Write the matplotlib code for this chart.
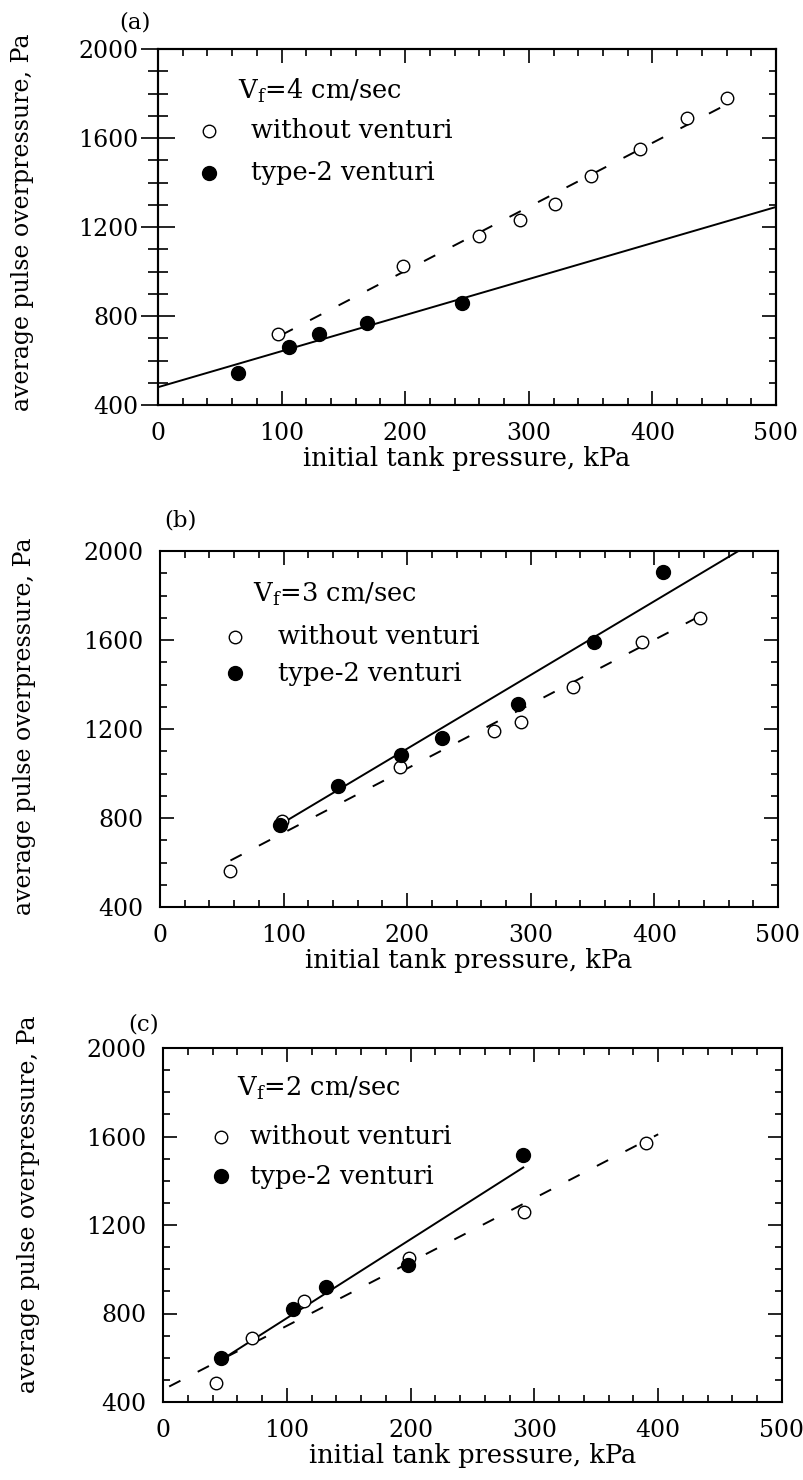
import matplotlib as mpl
import matplotlib.pyplot as plt
from matplotlib.ticker import MultipleLocator

mpl.rcParams.update({"font.family": "DejaVu Serif", "mathtext.fontset": "dejavuserif"})

W, H = 804, 1480

# panel (a): Vf = 4 cm/sec
a_open_x = [97, 198, 260, 293, 321, 350, 390, 428, 460]
a_open_y = [720, 1025, 1160, 1230, 1305, 1430, 1550, 1690, 1780]
a_fill_x = [65, 106, 130, 169, 246]
a_fill_y = [545, 660, 720, 770, 858]
a_solid = ([0, 500], [480, 1290])
a_dash = ([100, 465], [715, 1765])

# panel (b): Vf = 3 cm/sec
b_open_x = [57, 99, 194, 270, 292, 334, 390, 437]
b_open_y = [560, 785, 1028, 1190, 1230, 1390, 1590, 1700]
b_fill_x = [97, 144, 195, 228, 290, 351, 407]
b_fill_y = [770, 946, 1085, 1160, 1312, 1590, 1905]
b_solid = ([100, 468], [780, 2000])
b_dash = ([57, 437], [609, 1708])

# panel (c): Vf = 2 cm/sec
c_open_x = [43, 72, 114, 199, 292, 390]
c_open_y = [485, 690, 855, 1050, 1260, 1572]
c_fill_x = [47, 105, 132, 198, 291]
c_fill_y = [600, 820, 920, 1020, 1515]
c_solid = ([47, 291], [590, 1460])
c_dash = ([5, 400], [470, 1610])

panels = [
    dict(box=(158, 49, 776, 405), tag="(a)", tag_xy=(135, 22), vf="4",
         ox=a_open_x, oy=a_open_y, fx=a_fill_x, fy=a_fill_y, solid=a_solid, dash=a_dash,
         leg=(0.129, 0.119, 0.083, 0.151, 0.229, 0.348), ylab_xy=(23, 222), inout=True),
    dict(box=(160, 551, 778, 907), tag="(b)", tag_xy=(180, 521), vf="3",
         ox=b_open_x, oy=b_open_y, fx=b_fill_x, fy=b_fill_y, solid=b_solid, dash=b_dash,
         leg=(0.150, 0.121, 0.121, 0.191, 0.241, 0.344), ylab_xy=(25, 726), inout=False),
    dict(box=(163, 1048, 782, 1402), tag="(c)", tag_xy=(144, 1024), vf="2",
         ox=c_open_x, oy=c_open_y, fx=c_fill_x, fy=c_fill_y, solid=c_solid, dash=c_dash,
         leg=(0.120, 0.113, 0.093, 0.140, 0.251, 0.362), ylab_xy=(29, 1204), inout=False),
]

fig = plt.figure(figsize=(W / 100, H / 100), dpi=100)


def set_ticks(a):
    a.xaxis.set_major_locator(MultipleLocator(100))
    a.xaxis.set_minor_locator(MultipleLocator(20))
    a.yaxis.set_major_locator(MultipleLocator(400))
    a.yaxis.set_minor_locator(MultipleLocator(100))


for p in panels:
    x0, y0, x1, y1 = p["box"]
    ax = fig.add_axes([x0 / W, 1 - y1 / H, (x1 - x0) / W, (y1 - y0) / H])
    ax.set_xlim(0, 500)
    ax.set_ylim(400, 2000)

    ax.plot(*p["solid"], color="black", lw=1.4)
    ax.plot(*p["dash"], color="black", lw=1.4, dashes=(6.5, 10))
    ax.plot(p["ox"], p["oy"], "o", ms=9, mfc="white", mec="black", mew=1.0, zorder=4)
    ax.plot(p["fx"], p["fy"], "o", ms=10, mfc="black", mec="black", zorder=4)

    lx, ly, mx, tx, y_open, y_fill = p["leg"]
    ax.text(lx, 1 - ly, r"V$_{\mathrm{f}}$=" + p["vf"] + " cm/sec", transform=ax.transAxes,
            fontsize=18.5, va="center", ha="left")
    ax.plot([mx], [1 - y_open], "o", ms=9, mfc="white", mec="black", mew=1.0,
            transform=ax.transAxes)
    ax.plot([mx], [1 - y_fill], "o", ms=10, mfc="black", mec="black",
            transform=ax.transAxes)
    ax.text(tx, 1 - y_open, "without venturi", transform=ax.transAxes, fontsize=18.5,
            va="center", ha="left")
    ax.text(tx, 1 - y_fill, "type-2 venturi", transform=ax.transAxes, fontsize=18.5,
            va="center", ha="left")

    set_ticks(ax)
    ax.tick_params(which="both", direction="in", top=True, right=True, width=1.2,
                   labelsize=17)
    ax.tick_params(which="major", length=10)
    ax.tick_params(which="minor", length=5)
    ax.tick_params(axis="x", which="major", pad=12)
    if p["inout"]:
        # left ticks cross the spine; right-hand ticks drawn on a twin, pointing in
        ax.tick_params(axis="y", which="major", direction="inout", length=24, pad=2,
                       right=False)
        ax.tick_params(axis="y", which="minor", direction="inout", length=14, right=False)
        tw = ax.twinx()
        tw.set_ylim(ax.get_ylim())
        set_ticks(tw)
        tw.tick_params(which="both", direction="in", width=1.2, labelright=False)
        tw.tick_params(which="major", length=10)
        tw.tick_params(which="minor", length=5)
        for s in tw.spines.values():
            s.set_linewidth(1.5)
    else:
        ax.tick_params(axis="y", which="major", pad=12)
    for s in ax.spines.values():
        s.set_linewidth(1.5)

    ax.set_xlabel("initial tank pressure, kPa", fontsize=18.5, labelpad=1)
    fig.text(p["ylab_xy"][0] / W, 1 - p["ylab_xy"][1] / H,
             "average pulse overpressure, Pa", rotation=90, fontsize=17,
             ha="center", va="center")
    fig.text(p["tag_xy"][0] / W, 1 - p["tag_xy"][1] / H, p["tag"], fontsize=16.5,
             ha="center", va="center")

fig.savefig("out.png", dpi=100, facecolor="white")
